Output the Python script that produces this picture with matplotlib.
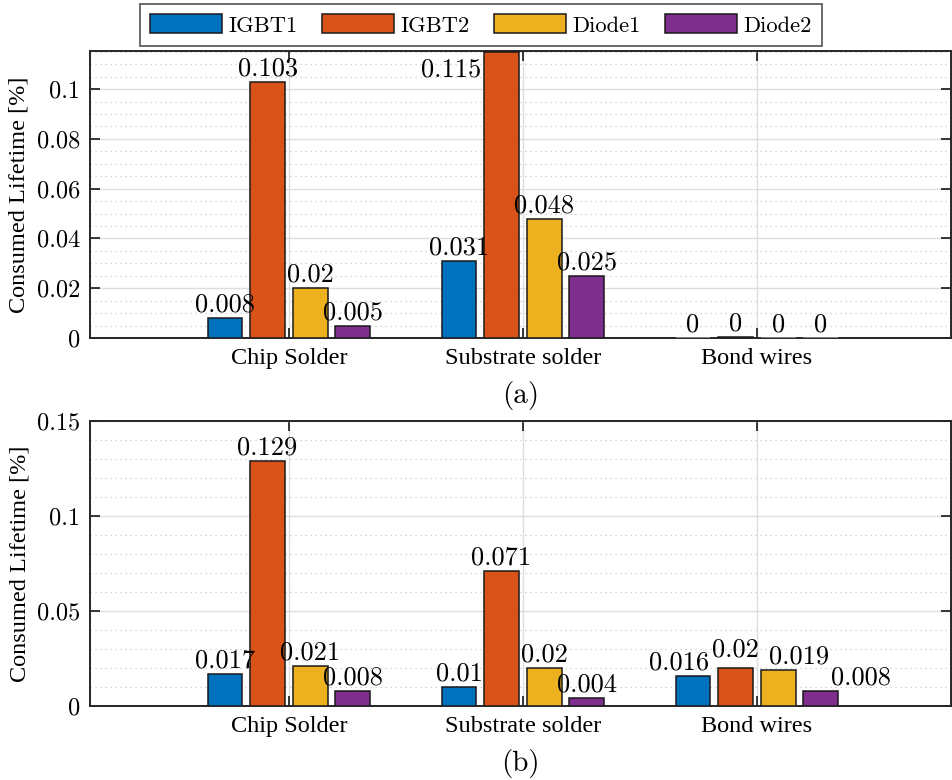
import matplotlib
matplotlib.use("Agg")
import matplotlib.pyplot as plt
import numpy as np
from matplotlib.ticker import MultipleLocator

plt.rcParams["axes.formatter.use_mathtext"] = True

CATEGORIES = ["Chip Solder", "Substrate solder", "Bond wires"]
SERIES = ["IGBT1", "IGBT2", "Diode1", "Diode2"]
COLORS = ["#0072BD", "#D95319", "#EDB120", "#7E2F8E"]

# panel (a)
A_IGBT1 = [0.008, 0.031, 0.0]
A_IGBT2 = [0.103, 0.115, 0.0004]
A_DIODE1 = [0.020, 0.048, 0.0]
A_DIODE2 = [0.005, 0.025, 0.0]

# panel (b)
B_IGBT1 = [0.017, 0.010, 0.016]
B_IGBT2 = [0.129, 0.071, 0.020]
B_DIODE1 = [0.021, 0.020, 0.019]
B_DIODE2 = [0.008, 0.004, 0.008]

CM = "cmr10"
TIMES = "Liberation Serif"


def _label(v):
    return f"{round(v, 3):g}"


def draw_panel(ax, series_vals, ymax, ymajor, yminor, nudges, tag):
    x = np.arange(1, len(CATEGORIES) + 1)
    step = 0.182
    width = 0.149
    for i, (vals, color) in enumerate(zip(series_vals, COLORS)):
        xs = x + (i - 1.5) * step
        edge = ["#1a1a1a" if v > 0 else "#9a9a9a" for v in vals]
        ax.bar(xs, vals, width=width, color=color, edgecolor=edge, linewidth=1.1,
               label=SERIES[i], zorder=3)
        for j, (xx, v) in enumerate(zip(xs, vals)):
            dx, dy = nudges.get((i, j), (0, 0))
            yy = min(v, ymax * 0.905)
            ax.annotate(_label(v), (xx, yy), xytext=(dx, 1 + dy), textcoords="offset points",
                        ha="center", va="bottom", fontsize=19, family=CM, zorder=4)

    ax.set_xlim(0.15, 3.83)
    ax.set_ylim(0, ymax)
    ax.set_xticks(x)
    ax.set_xticklabels(CATEGORIES, fontsize=17.5, family=TIMES)
    ax.yaxis.set_major_locator(MultipleLocator(ymajor))
    ax.yaxis.set_minor_locator(MultipleLocator(yminor))
    ax.yaxis.set_major_formatter(plt.FuncFormatter(lambda v, p: f"{round(v, 3):g}"))
    for lab in ax.get_yticklabels():
        lab.set_family(CM)
        lab.set_fontsize(17.5)
    ax.tick_params(axis="both", which="major", direction="in", length=7, width=1.3,
                   top=True, right=True, color="#262626", pad=7)
    ax.tick_params(axis="y", which="minor", length=0)
    ax.tick_params(axis="x", which="minor", length=0)
    ax.grid(True, which="major", color="#dedede", linewidth=1.0, zorder=0)
    ax.grid(True, which="minor", axis="y", color="#c8c8c8", linestyle=(0, (1, 3)),
            linewidth=0.9, zorder=0)
    ax.set_axisbelow(True)
    for s in ax.spines.values():
        s.set_color("#262626")
        s.set_linewidth(1.4)
    ax.set_ylabel("Consumed Lifetime [%]", fontsize=17.5, family=TIMES, labelpad=5)
    ax.text(0.5, -0.15, tag, transform=ax.transAxes, ha="center", va="top",
            fontsize=21, family=CM)


fig = plt.figure(figsize=(9.52, 7.8), dpi=100)
ax1 = fig.add_axes([0.0945, 0.5667, 0.9045, 0.3679])
ax2 = fig.add_axes([0.0945, 0.0949, 0.9045, 0.3654])

draw_panel(ax1, [A_IGBT1, A_IGBT2, A_DIODE1, A_DIODE2], 0.1153, 0.02, 0.005,
           {(1, 1): (-36, -3)}, "(a)")
draw_panel(ax2, [B_IGBT1, B_IGBT2, B_DIODE1, B_DIODE2], 0.15, 0.05, 0.01,
           {(0, 2): (-10, 0), (1, 2): (0, 4), (2, 2): (15, 0), (3, 2): (29, 0)}, "(b)")

handles, labels = ax1.get_legend_handles_labels()
leg = fig.legend(handles, labels, loc="upper center", bbox_to_anchor=(0.505, 0.9945),
                 ncol=4, fancybox=False, edgecolor="#262626", handlelength=3.2,
                 handleheight=0.9, columnspacing=1.1, handletextpad=0.27,
                 borderpad=0.45, borderaxespad=0.0, prop={"family": CM, "size": 16.2})
leg.get_frame().set_linewidth(1.2)

fig.savefig("out.png", dpi=100)
